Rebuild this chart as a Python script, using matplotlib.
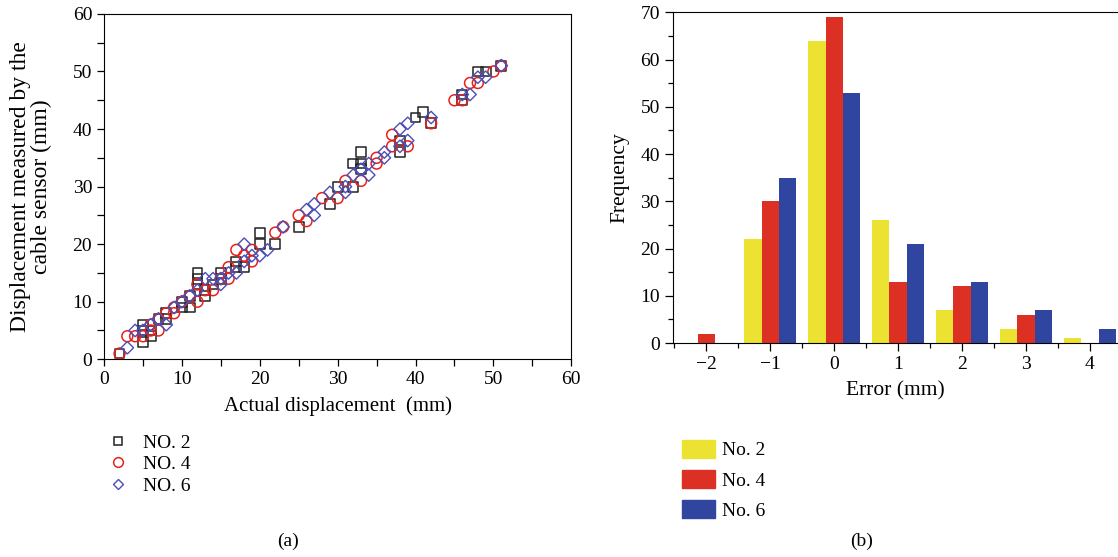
import numpy as np
import matplotlib
matplotlib.use('Agg')
from matplotlib import pyplot as plt
from matplotlib.ticker import MultipleLocator
from matplotlib.patches import Patch
from matplotlib.lines import Line2D

plt.rcParams['font.family'] = ['Liberation Serif', 'DejaVu Serif']
plt.rcParams['axes.unicode_minus'] = True

# (a) actual vs measured displacement, mm
no2_x = [2, 5, 5, 5, 6, 6, 7, 8, 8, 10, 10, 11, 11, 12, 12, 12, 13, 13, 14, 15, 15, 17, 17, 18,
         20, 20, 22, 25, 29, 30, 32, 32, 33, 33, 33, 38, 38, 40, 41, 42, 46, 46, 48, 49, 51]
no2_y = [1, 6, 5, 3, 4, 5, 7, 7, 8, 10, 9, 9, 11, 15, 14, 13, 11, 12, 13, 15, 14, 17, 16, 16,
         22, 20, 20, 23, 27, 30, 30, 34, 36, 34, 33, 36, 38, 42, 43, 41, 45, 46, 50, 50, 51]

no4_x = [2, 3, 4, 5, 6, 6, 7, 7, 8, 9, 9, 10, 11, 12, 12, 13, 14, 15, 16, 16, 17, 18, 19, 19,
         22, 23, 25, 26, 28, 30, 31, 33, 35, 35, 37, 37, 39, 42, 45, 46, 47, 48, 50, 51]
no4_y = [1, 4, 4, 4, 5, 6, 5, 7, 8, 9, 8, 10, 11, 10, 13, 12, 12, 14, 16, 14, 19, 18, 19, 17,
         22, 23, 25, 24, 28, 28, 31, 31, 35, 34, 39, 37, 37, 41, 45, 45, 48, 48, 50, 51]

no6_x = [3, 4, 5, 6, 7, 8, 9, 10, 11, 12, 13, 14, 15, 15, 16, 17, 18, 18, 19, 20, 21, 23,
         26, 27, 27, 29, 31, 31, 32, 33, 34, 34, 36, 36, 38, 39, 39, 38, 42, 46, 47, 48, 49, 51]
no6_y = [2, 5, 5, 6, 7, 6, 9, 10, 11, 12, 14, 14, 13, 14, 15, 15, 20, 17, 18, 18, 19, 23,
         26, 27, 25, 29, 30, 29, 32, 33, 34, 32, 36, 35, 40, 41, 38, 37, 42, 46, 46, 49, 49, 51]

# (b) error histogram
errors = [-2, -1, 0, 1, 2, 3, 4]
freq_no2 = [0, 22, 64, 26, 7, 3, 1]
freq_no4 = [2, 30, 69, 13, 12, 6, 0]
freq_no6 = [0, 35, 53, 21, 13, 7, 3]

fig = plt.figure(figsize=(11.18, 5.57), dpi=100)

# ---- (a)
ax1 = fig.add_axes([0.093, 0.355, 0.418, 0.62])
ax1.scatter(no2_x, no2_y, marker='s', s=50, facecolors='none', edgecolors='#222222', linewidths=1.1)
ax1.scatter(no4_x, no4_y, marker='o', s=62, facecolors='none', edgecolors='#e8201a', linewidths=1.1)
ax1.scatter(no6_x, no6_y, marker='D', s=40, facecolors='none', edgecolors='#4a4fb8', linewidths=1.0)
ax1.set_xlim(0, 60)
ax1.set_ylim(0, 60)
ax1.xaxis.set_major_locator(MultipleLocator(10))
ax1.yaxis.set_major_locator(MultipleLocator(10))
ax1.xaxis.set_minor_locator(MultipleLocator(5))
ax1.yaxis.set_minor_locator(MultipleLocator(5))
ax1.tick_params(which='both', direction='out', length=5, width=0.9, labelsize=14)
ax1.set_xlabel('Actual displacement  (mm)', fontsize=15, labelpad=6)
ax1.set_ylabel('Displacement measured by the\ncable sensor (mm)', fontsize=17, linespacing=0.95)
ax1.yaxis.set_label_coords(-0.112, 0.5)

h1 = [Line2D([], [], ls='none', marker='s', ms=6, mfc='none', mec='#222222', mew=1.1),
      Line2D([], [], ls='none', marker='o', ms=7, mfc='none', mec='#e8201a', mew=1.1),
      Line2D([], [], ls='none', marker='D', ms=5.5, mfc='none', mec='#4a4fb8', mew=1.0)]
fig.legend(h1, ['NO. 2', 'NO. 4', 'NO. 6'], loc='upper left', bbox_to_anchor=(0.088, 0.238),
           frameon=False, fontsize=14, handlelength=1.0, handletextpad=0.8, labelspacing=0.2,
           borderpad=0)

# ---- (b)
ax2 = fig.add_axes([0.602, 0.384, 0.398, 0.594])
w = 0.27
x = np.array(errors)
ax2.bar(x - w, freq_no2, width=w, color='#ece232')
ax2.bar(x, freq_no4, width=w, color='#dd3024')
ax2.bar(x + w, freq_no6, width=w, color='#2f45a0')
ax2.set_xlim(-2.52, 4.44)
ax2.set_ylim(0, 70)
ax2.xaxis.set_major_locator(MultipleLocator(1))
ax2.xaxis.set_minor_locator(MultipleLocator(0.5))
ax2.yaxis.set_major_locator(MultipleLocator(10))
ax2.yaxis.set_minor_locator(MultipleLocator(5))
ax2.tick_params(which='major', direction='out', length=6, width=0.9, labelsize=14)
ax2.tick_params(which='minor', direction='out', length=3.5, width=0.9)
ax2.spines['right'].set_visible(False)
ax2.set_xlabel('Error (mm)', fontsize=15.5, labelpad=6)
ax2.set_ylabel('Frequency', fontsize=15.5)
ax2.yaxis.set_label_coords(-0.098, 0.5)

h2 = [Patch(color='#ece232'), Patch(color='#dd3024'), Patch(color='#2f45a0')]
fig.legend(h2, ['No. 2', 'No. 4', 'No. 6'], loc='upper left', bbox_to_anchor=(0.601, 0.228),
           frameon=False, fontsize=14, handlelength=1.7, handleheight=1.05, handletextpad=0.4,
           labelspacing=0.55, borderpad=0)

fig.text(0.258, 0.02, '(a)', ha='center', fontsize=14)
fig.text(0.771, 0.02, '(b)', ha='center', fontsize=14)

fig.savefig('out.png', dpi=100)
